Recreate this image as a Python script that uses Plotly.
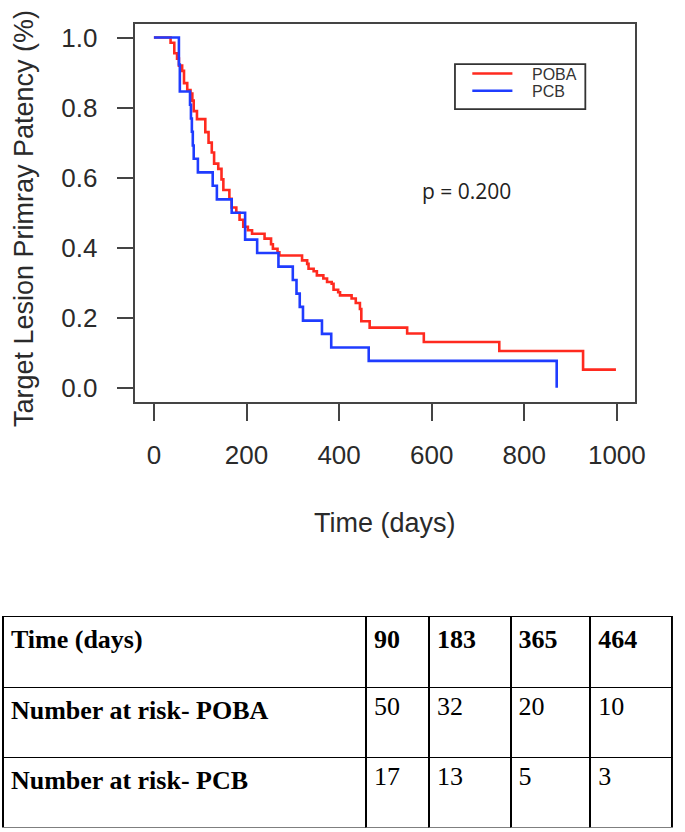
import plotly.graph_objects as go

# ---- Kaplan-Meier data ----
poba_time = [36, 44, 50, 54, 61, 65, 72, 79, 83, 86, 93, 111, 118, 125, 130, 139, 146, 150, 163, 168,
             178, 185, 193, 203, 212, 239, 253, 257, 267, 271, 320, 331, 334, 345, 352, 366, 374, 384,
             388, 398, 402, 427, 436, 445, 448, 466, 547, 583, 746, 927]
poba_surv = [0.985, 0.955, 0.94, 0.92, 0.905, 0.87, 0.85, 0.84, 0.82, 0.79, 0.767, 0.73, 0.70, 0.672,
             0.64, 0.625, 0.595, 0.565, 0.54, 0.515, 0.50, 0.48, 0.46, 0.45, 0.44, 0.426, 0.41, 0.397,
             0.387, 0.378, 0.364, 0.354, 0.34, 0.333, 0.321, 0.312, 0.302, 0.297, 0.28, 0.273, 0.264,
             0.255, 0.242, 0.225, 0.19, 0.172, 0.155, 0.131, 0.105, 0.052]
poba_last = 998

pcb_time = [54, 56, 78, 80, 82, 84, 86, 95, 127, 136, 168, 197, 223, 269, 300, 308, 315, 322, 363, 383, 464, 870]
pcb_surv = [0.923, 0.846, 0.808, 0.769, 0.731, 0.692, 0.654, 0.615, 0.577, 0.538, 0.500, 0.423, 0.385,
            0.346, 0.308, 0.269, 0.231, 0.192, 0.154, 0.115, 0.077, 0.0]

x_ticks = [0, 200, 400, 600, 800, 1000]
y_ticks = [0.0, 0.2, 0.4, 0.6, 0.8, 1.0]
y_tick_text = ["0.0", "0.2", "0.4", "0.6", "0.8", "1.0"]

p_text = "p = 0.200"

# ---- Number-at-risk table ----
risk_header = "Time (days)"
risk_times = [90, 183, 365, 464]
risk_labels = ["Number at risk- POBA", "Number at risk- PCB"]
risk_poba = [50, 32, 20, 10]
risk_pcb = [17, 13, 5, 3]

W, H = 685, 832
RED = "#FF2A1F"
BLUE = "#1F3CFF"
AXC = "#444444"
TXT = "#2a2a2a"

def px_x(p):
    return p / W

def px_y(p):
    return 1 - p / H

fig = go.Figure()

fig.add_trace(go.Scatter(
    x=[0] + poba_time + [poba_last],
    y=[1.0] + poba_surv + [poba_surv[-1]],
    mode="lines", line=dict(color=RED, width=2.6, shape="hv"),
    name="POBA", showlegend=False, hoverinfo="skip"))
fig.add_trace(go.Scatter(
    x=[0] + pcb_time,
    y=[1.0] + pcb_surv,
    mode="lines", line=dict(color=BLUE, width=2.6, shape="hv"),
    name="PCB", showlegend=False, hoverinfo="skip"))

# table
header_vals = ["<b>%s</b>" % risk_header] + ["<b>%d</b>" % t for t in risk_times]
cell_vals = [["<b>%s</b>" % s for s in risk_labels]] + [[a, b] for a, b in zip(risk_poba, risk_pcb)]
fig.add_trace(go.Table(
    domain=dict(x=[px_x(3), px_x(682)], y=[px_y(829), px_y(617)]),
    columnwidth=[369, 64, 83, 81, 83],
    header=dict(values=header_vals, align="left", height=71,
                font=dict(family="Liberation Serif", size=26, color="black"),
                fill=dict(color="white"), line=dict(color="black", width=1.8)),
    cells=dict(values=cell_vals, align="left", height=70,
               font=dict(family="Liberation Serif", size=26, color="black"),
               fill=dict(color="white"), line=dict(color="black", width=1.8)),
))

fig.update_layout(
    width=W, height=H,
    margin=dict(l=0, r=0, t=0, b=0),
    paper_bgcolor="white", plot_bgcolor="white",
    showlegend=False,
    xaxis=dict(domain=[px_x(137.4), px_x(644.8)], range=[-40, 1040],
               tickmode="array", tickvals=x_ticks, ticktext=[str(v) for v in x_ticks],
               showgrid=False, zeroline=False, showline=True, mirror=True,
               linecolor=AXC, linewidth=1.5, ticks="outside", ticklen=17, tickwidth=1.5,
               tickcolor=AXC, tickfont=dict(family="Liberation Sans", size=26, color=TXT),
               ticklabelstandoff=12, fixedrange=True),
    yaxis=dict(domain=[px_y(401.8), px_y(22.6)], range=[-0.04, 1.04],
               tickmode="array", tickvals=y_ticks, ticktext=y_tick_text,
               showgrid=False, zeroline=False, showline=True, mirror=True,
               linecolor=AXC, linewidth=1.5, ticks="outside", ticklen=17, tickwidth=1.5,
               tickcolor=AXC, tickfont=dict(family="Liberation Sans", size=26, color=TXT),
               ticklabelstandoff=14, fixedrange=True),
)

# axis titles
fig.add_annotation(x=px_x(391), y=px_y(523), xref="paper", yref="paper", showarrow=False,
                   text="Time (days)", font=dict(family="Liberation Sans", size=27, color=TXT),
                   xanchor="center", yanchor="middle")
fig.add_annotation(x=px_x(25), y=px_y(218), xref="paper", yref="paper", showarrow=False,
                   text="Target Lesion Primray Patency (%)", textangle=-90,
                   font=dict(family="Liberation Sans", size=27, color=TXT),
                   xanchor="center", yanchor="middle")

# p-value
fig.add_annotation(x=px_x(426), y=px_y(190), xref="paper", yref="paper", showarrow=False,
                   text=p_text, font=dict(family="Open Sans", size=21, color="#222222"),
                   xanchor="left", yanchor="middle")

# legend box
fig.add_shape(type="rect", xref="paper", yref="paper",
              x0=px_x(461.7), x1=px_x(594), y0=px_y(108.3), y1=px_y(63.3),
              line=dict(color="#333333", width=1.8), fillcolor="white", layer="above")
for name, col, yy in [("POBA", RED, 72.7), ("PCB", BLUE, 90.0)]:
    fig.add_shape(type="line", xref="paper", yref="paper",
                  x0=px_x(479.3), x1=px_x(520), y0=px_y(yy), y1=px_y(yy),
                  line=dict(color=col, width=2.6), layer="above")
    fig.add_annotation(x=px_x(538), y=px_y(yy + 1), xref="paper", yref="paper", showarrow=False,
                       text=name, font=dict(family="Liberation Sans", size=16, color="#333333"),
                       xanchor="left", yanchor="middle")

fig.write_html(
    "out.html",
    config={"displayModeBar": False},
    post_script="document.body.style.margin='0';document.body.style.padding='0';"
                "document.body.style.overflow='hidden';"
                "document.documentElement.style.overflow='hidden';",
)
